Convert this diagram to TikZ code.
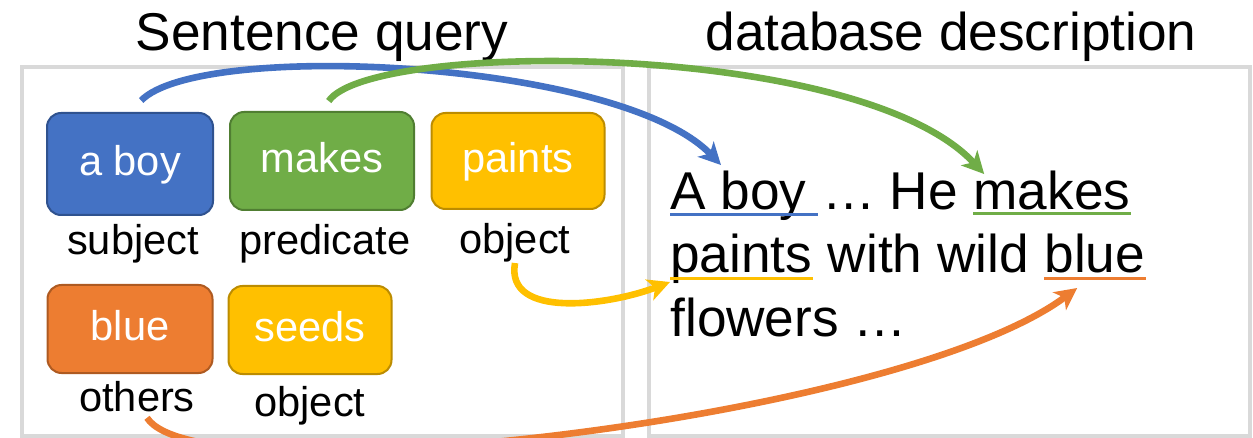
\documentclass[tikz,border=0pt]{standalone}
\usepackage{fontspec}
\setmainfont{Liberation Sans}
\usetikzlibrary{arrows.meta,calc,positioning}
\definecolor{boyblue}{HTML}{4472C4}
\definecolor{boyblueline}{HTML}{2F528F}
\definecolor{makegreen}{HTML}{70AD47}
\definecolor{makegreenline}{HTML}{507E32}
\definecolor{paintyellow}{HTML}{FFC000}
\definecolor{paintyellowline}{HTML}{BC8C00}
\definecolor{otherorange}{HTML}{ED7D31}
\definecolor{otherorangeline}{HTML}{AE5A21}
\definecolor{panelgray}{HTML}{D9D9D9}
\begin{document}
\begin{tikzpicture}[x=0.5pt,y=-0.5pt,>={Stealth[length=11pt,width=11pt,inset=3pt]}]
                \tikzstyle{panel}=[draw=panelgray,line width=2pt]
                \tikzstyle{word}=[rounded corners=7pt,line width=1pt,text=white,inner sep=0pt,text height=15pt,text depth=3pt,font=\fontsize{20.8}{25}\selectfont]
                \tikzstyle{role}=[anchor=base,inner sep=0pt,font=\fontsize{20.8}{25}\selectfont]
                \tikzstyle{title}=[anchor=base,inner sep=0pt,font=\fontsize{26.6}{32}\selectfont]
                \tikzstyle{sent}=[anchor=base west,inner sep=0pt,font=\fontsize{26.6}{32}\selectfont]
                \tikzstyle{uline}=[line width=1.5pt]
                \tikzstyle{link}=[->,line width=3.3pt]

                \useasboundingbox (0,0) rectangle (1253,438);
                \draw[panel] (22,67) rectangle (623,436);
                \draw[panel] (649,67) rectangle (1250,436);

                \node[title] (t-query) at (322,51) {Sentence query};
                \node[title] (t-db) at (951,51) {database description};

                \node[word,fill=boyblue,draw=boyblueline,minimum width=83pt,minimum height=51pt] (aboy) at (130,164) {a boy};
                \node[word,fill=makegreen,draw=makegreenline,minimum width=92pt,minimum height=49pt] (makes) at (322,161) {makes};
                \node[word,fill=paintyellow,draw=paintyellowline,minimum width=86.5pt,minimum height=48pt] (paints) at (518,161) {paints};
                \node[word,fill=otherorange,draw=otherorangeline,minimum width=82.5pt,minimum height=44pt] (blue) at (130,329) {blue};
                \node[word,fill=paintyellow,draw=paintyellowline,minimum width=81.5pt,minimum height=44pt] (seeds) at (310,330) {seeds};

                \node[role] (aboy-r) at (133,255) {subject};
                \node[role] (makes-r) at (325,255) {predicate};
                \node[role] (paints-r) at (515,254) {object};
                \node[role] (blue-r) at (137,411) {others};
                \node[role] (seeds-r) at (310,416) {object};

                \node[sent] (w-boy) at (670,210) {A boy\ \kern0pt};
                \node[sent] (w-he) at (w-boy.base east) {…\ He\ \kern0pt};
                \node[sent] (w-makes) at (w-he.base east) {makes};
                \node[sent] (w-paints) at (670,273) {paints};
                \node[sent] (w-with) at (w-paints.base east) {\ with wild\ \kern0pt};
                \node[sent] (w-blue) at (w-with.base east) {blue};
                \node[sent] (w-flowers) at (670,336) {flowers …};

                \draw[uline,boyblue] ($(w-boy.base west)+(0,5)$) -- ($(w-boy.base east)+(-4,5)$);
                \draw[uline,makegreen] ($(w-makes.base west)+(0,4)$) -- ($(w-makes.base east)+(0,4)$);
                \draw[uline,paintyellow] ($(w-paints.base west)+(0,6)$) -- ($(w-paints.base east)+(0,6)$);
                \draw[uline,otherorange] ($(w-blue.base west)+(0,6)$) -- ($(w-blue.base east)+(0,6)$);

                \draw[link,boyblue,shorten <=8pt] (aboy.north) .. controls (200,40) and (620,60) .. ($(w-boy.north west)+(51,-6)$);
                \draw[link,makegreen,shorten <=6pt] (makes.north) .. controls (370,40) and (860,40) .. ($(w-makes.north west)+(11,3)$);
                \draw[link,paintyellow] (paints-r.south) .. controls (505,320) and (610,305) .. ($(w-paints.base west)+(0,9)$);
                \draw[link,otherorange] ($(blue-r.south)+(10,6)$) .. controls (200,500) and (900,420) .. ($(w-blue.base west)+(33,15)$);
\end{tikzpicture}
\end{document}
